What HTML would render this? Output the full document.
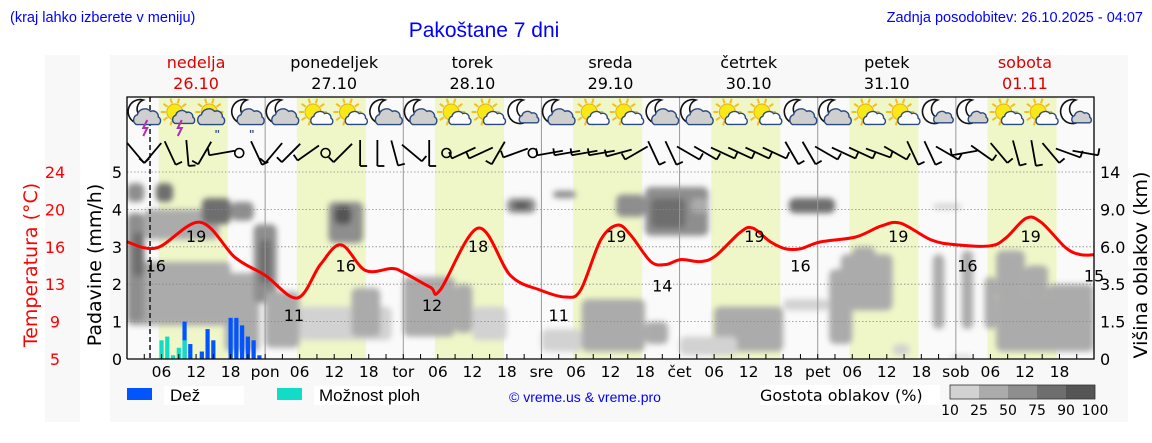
<!DOCTYPE html>
<html><head><meta charset="utf-8"><style>
html,body{margin:0;padding:0;background:#fff;}
svg{display:block;font-family:"DejaVu Sans","Liberation Sans",sans-serif;}
</style></head><body>
<svg id="chart" width="1152" height="443" viewBox="0 0 1152 443" xmlns="http://www.w3.org/2000/svg">
<defs>
<filter id="blur" x="-20%" y="-20%" width="140%" height="140%"><feGaussianBlur stdDeviation="3"/></filter>
<clipPath id="plotclip"><rect x="127" y="97" width="967" height="262"/></clipPath>
</defs>
<rect x="45" y="55" width="35" height="367" fill="#f8f8f8"/>
<rect x="110" y="55" width="1018" height="367" fill="#f8f8f8"/>
<text x="10" y="22" font-family="Liberation Sans, sans-serif" font-size="14.5" fill="#0000ff">(kraj lahko izberete v meniju)</text>
<text x="484" y="37" text-anchor="middle" font-family="Liberation Sans, sans-serif" font-size="21" fill="#0000ff">Pakoštane 7 dni</text>
<text x="1143" y="22" text-anchor="end" font-family="Liberation Sans, sans-serif" font-size="14.5" fill="#0000ff">Zadnja posodobitev: 26.10.2025 - 04:07</text>
<g id="plot"></g>
<g id="overlay"></g>
</svg>
<script>
const NS='http://www.w3.org/2000/svg';
// ---- data ----
const dayNames=['nedelja','ponedeljek','torek','sreda','četrtek','petek','sobota'];
const dayDates=['26.10','27.10','28.10','29.10','30.10','31.10','01.11'];
const dayRed=[true,false,false,false,false,false,true];
const dayAbbr=['pon','tor','sre','čet','pet','sob'];
const tempHours=[0,5.2,12.7,18.8,24,29.6,33.6,37.2,41.4,46,48,52.7,54.4,61,66.6,71.8,76.2,78.8,82.3,85.2,87.5,91,93.6,96.2,99.7,102.3,106.6,108.7,111.8,114.4,117,120.5,126.6,131,134.4,139.7,144,150,152.7,156.2,158.8,163.1,165.7,168];
const tempValues=[16.9,16.3,18.9,15.3,13.5,11.2,14.6,16.6,14.0,14.2,13.8,12.3,12.0,18.3,13.5,12.0,11.3,12.0,17.1,18.6,17.6,14.9,14.6,15.1,14.9,15.5,17.9,18.3,16.9,16.2,16.2,16.9,17.4,18.5,18.8,17.1,16.6,16.5,17.3,19.3,18.9,16.3,15.6,15.6];
const labelHours=[5,12,29,38,53,61,75,85,93,109,117,134,146,157,168];
const labelTemps=[16,19,11,16,12,18,11,19,14,19,16,19,16,19,15];
const rainHours=[10,11,13,14,15,18,19,20,21,22,23];
const rainValues=[1.0,0.4,0.2,0.8,0.5,1.1,1.1,0.9,0.6,0.5,0.1];
const showerHours=[6,7,8,9,10];
const showerValues=[0.5,0.6,0.1,0.3,0.5];
const precipTicks=[0,1,2,3,4,5];
const tempTicks=['5','9','13','16','20','24'];
const cloudTicks=['0','1.5','3.5','6.0','9.0','14'];
const cloudH0=[0,0,1,0,5,3,13,17,22,23,24,18,35,36,30,39,48,57,60,66,67,74,72,79,80,90,85,90,91,98,102,96,115,114,122,124,126,133,140,145,149,151,151,156,160,143,140];
const cloudH1=[18,3,3,3,8,16,18,23,26,25,30,22,41,39,46,44,57,60,66,71,70,78,79,90,88,94,90,101,97,101,114,106,123,122,126,133,130,136,142,147,151,168,156,160,168,147,145];
const cloudLo=[0.9,1.0,2.2,4.2,4.2,3.2,3.6,0.2,1.5,2.0,0.3,3.7,3.1,3.6,0.5,0.6,0.6,0.7,0.5,3.9,4.0,4.3,0.2,0.2,0.4,0.4,3.8,3.3,3.5,3.9,0.2,0.1,3.9,1.3,0.4,1.3,2.6,0.1,0.8,0.8,0.8,0.2,1.6,1.6,1.6,0.0,4.0];
const cloudHi=[2.6,3.9,3.4,4.7,4.7,4.0,4.3,2.3,3.6,3.2,1.8,4.2,4.2,4.1,1.4,1.9,2.2,2.0,1.4,4.3,4.2,4.5,0.8,1.6,1.4,1.0,4.4,4.6,4.3,4.3,1.4,0.6,4.3,1.6,2.4,2.8,3.0,0.4,2.8,2.9,2.2,1.7,2.9,2.5,2.0,0.1,4.15];
const cloudShade=[1,2,3,2,3,1,3,1,2,3,1,2,2,4,0,1,1,1,0,2,4,2,0,1,1,1,2,2,3,1,1,0,3,0,1,1,1,0,1,1,1,1,1,1,1,0,0];
const iconTypes=['mt','st','sr','mr','mc','sc','sc','mc','mc','sc','sc','m','mc','sc','sc','mc','mc','sc','sc','mc','mc','sc','sc','m','m','sc','sc','m'];
const windAngles=[40,-40,25,5,-30,-80,null,25, -40,-45,-55,null,-45,0,0,15, 50,0,null,-65,-65,-30,-70,null, -80,-80,-80,-80,-75,-60,25,25, 60,60,65,65,65,65,30,30, 60,65,65,70,60,25,25,60, -80,55,40,15,10,40,70,80];
const legendValues=['10','25','50','75','90','100'];
const shadeColors=['#d2d2d2','#ababab','#8e8e8e','#6e6e6e','#555555'];
// ---- axes ----
const X0=127,X1=1094,Y0=359,YTOP=97,PX_MM=37.4;
const xH=h=>X0+h*(X1-X0)/168;
const yMM=v=>Y0-v*PX_MM;
const yT=t=>Y0-(t-5)/3.8*PX_MM;
function el(tag,attrs,parent,text){const e=document.createElementNS(NS,tag);for(const k in attrs)e.setAttribute(k,attrs[k]);if(text!==undefined)e.textContent=text;(parent||plot).appendChild(e);return e;}
const plot=document.getElementById('plot');
const ov=document.getElementById('overlay');
let bg=el('rect',{x:X0,y:YTOP,width:X1-X0,height:Y0-YTOP,fill:'#fafafa'});


for(let d=0;d<7;d++){
  const r=el('rect',{x:xH(d*24+5.5),y:YTOP,width:xH(17.5)-xH(5.5),height:Y0-YTOP,fill:'#eff7c8'});
  
  
}
const cg=el('g',{'clip-path':'url(#plotclip)'});


const cgi=el('g',{filter:'url(#blur)'},cg);
for(let i=0;i<cloudH0.length;i++){
  const r=el('rect',{x:xH(cloudH0[i]),y:yMM(cloudHi[i]),width:xH(cloudH1[i])-xH(cloudH0[i]),height:yMM(cloudLo[i])-yMM(cloudHi[i]),rx:6,fill:shadeColors[cloudShade[i]]},cgi);
  
  
}
for(let v=1;v<=5;v++){
  const g=el('line',{x1:X0,x2:X1,y1:yMM(v),y2:yMM(v),stroke:'#888','stroke-width':0.8,'stroke-dasharray':'1.5,2'});
  
  
}
for(let d=1;d<7;d++){
  const l=el('line',{x1:xH(d*24),x2:xH(d*24),y1:YTOP,y2:Y0,stroke:'#999','stroke-width':1});
  
  
}
let nl=el('line',{x1:xH(4),x2:xH(4),y1:YTOP,y2:Y0,stroke:'#222','stroke-width':1.6,'stroke-dasharray':'5,3'});


const bw=4.2;
for(let i=0;i<rainHours.length;i++){
  const b=el('rect',{x:xH(rainHours[i])-bw/2,y:yMM(rainValues[i]),width:bw,height:rainValues[i]*PX_MM,fill:'#0055ff'});
  
  
}
for(let i=0;i<showerHours.length;i++){
  const b=el('rect',{x:xH(showerHours[i])-bw/2,y:yMM(showerValues[i]),width:bw,height:showerValues[i]*PX_MM,fill:'#10dcc8'});
  
  
}
// smooth temperature line (Catmull-Rom)
const pts=tempHours.map((h,i)=>[xH(h),yT(tempValues[i])]);
let d='M'+pts[0][0].toFixed(1)+','+pts[0][1].toFixed(1);
for(let i=0;i<pts.length-1;i++){
  const p0=pts[Math.max(0,i-1)],p1=pts[i],p2=pts[i+1],p3=pts[Math.min(pts.length-1,i+2)];
  const c1=[p1[0]+(p2[0]-p0[0])/6,p1[1]+(p2[1]-p0[1])/6],c2=[p2[0]-(p3[0]-p1[0])/6,p2[1]-(p3[1]-p1[1])/6];
  d+=`C${c1[0].toFixed(1)},${c1[1].toFixed(1)} ${c2[0].toFixed(1)},${c2[1].toFixed(1)} ${p2[0].toFixed(1)},${p2[1].toFixed(1)}`;
}
let tl=el('path',{d:d,fill:'none',stroke:'#ff0000','stroke-width':3,'stroke-linejoin':'round'});


for(let i=0;i<labelHours.length;i++){
  const t=el('text',{x:xH(labelHours[i]),y:yT(labelTemps[i])+21,'text-anchor':'middle','font-size':16,fill:'#000'},plot,String(labelTemps[i]));
  
  
}
let fr=el('path',{d:`M${X0},${Y0}L${X0},${YTOP}L${X1},${YTOP}L${X1},${Y0}L${X0},${Y0}`,fill:'none',stroke:'#000','stroke-width':1.3});


for(let h=3;h<168;h+=3){
  const tk=el('line',{x1:xH(h),x2:xH(h),y1:Y0,y2:Y0-5,stroke:'#000','stroke-width':1});
  
  
}
for(let dd=0;dd<7;dd++){
  ['06','12','18'].forEach((s,j)=>{
    const t=el('text',{x:xH(dd*24+6*(j+1)),y:377,'text-anchor':'middle','font-size':15.5},plot,s);
    
    
  });
  if(dd<6){
    const t=el('text',{x:xH((dd+1)*24),y:377,'text-anchor':'middle','font-size':15.5},plot,dayAbbr[dd]);
    
    
  }
  const c=dayRed[dd]?'#dd0000':'#000';
  const n=el('text',{x:xH(dd*24+12),y:68,'text-anchor':'middle','font-size':16,fill:c},plot,dayNames[dd]);
  
  
  const dt=el('text',{x:xH(dd*24+12),y:89,'text-anchor':'middle','font-size':16,fill:c},plot,dayDates[dd]);
  
  
}
for(let i=0;i<precipTicks.length;i++){
  const y=yMM(precipTicks[i]);
  const t=el('text',{x:122,y:y+6,'text-anchor':'end','font-size':16},plot,String(precipTicks[i]));
  
  
  const tt=el('text',{x:55,y:y+6,'text-anchor':'middle','font-size':16,fill:'#ff0000'},plot,tempTicks[i]);
  
  
  const ct=el('text',{x:1100,y:y+6,'font-size':16},plot,cloudTicks[i]);
  
  
}
let a1=el('text',{x:0,y:0,transform:'translate(37,265) rotate(-90)','text-anchor':'middle','font-size':19,fill:'#ff0000'},plot,'Temperatura (°C)');


let a2=el('text',{x:0,y:0,transform:'translate(101,265) rotate(-90)','text-anchor':'middle','font-size':19},plot,'Padavine (mm/h)');


let a3=el('text',{x:0,y:0,transform:'translate(1147,265) rotate(-90)','text-anchor':'middle','font-size':19},plot,'Višina oblakov (km)');


function moon(g,cx,cy){el('path',{d:`M${cx+2},${cy-14} A12 12 0 1 0 ${cx+9},${cy+4} A9 9 0 0 1 ${cx+2},${cy-14}Z`,fill:'#fff',stroke:'#111','stroke-width':1.6},g);}
function sun(g,cx,cy){for(let k=0;k<10;k++){const a=k*Math.PI/5;el('line',{x1:cx+Math.cos(a)*9,y1:cy+Math.sin(a)*9,x2:cx+Math.cos(a)*14,y2:cy+Math.sin(a)*14,stroke:'#f0c020','stroke-width':2},g);}el('circle',{cx:cx,cy:cy,r:8,fill:'#f8e818',stroke:'#e8b010','stroke-width':1},g);}
function cloud(g,cx,cy,s,fill){el('path',{d:`M${cx-10*s},${cy+6*s} a${5*s} ${5*s} 0 0 1 ${1*s},${-9*s} a${7*s} ${7*s} 0 0 1 ${12*s},${-3*s} a${5*s} ${5*s} 0 0 1 ${7*s},${5*s} a${4*s} ${4*s} 0 0 1 0,${7*s} Z`,fill:fill,stroke:'#2a4a80','stroke-width':1.4},g);}
for(let i=0;i<iconTypes.length;i++){
  const cx=xH(3+6*i),cy=116,ty=iconTypes[i];
  const g=el('g',{});
  
  
  if(ty[0]==='m'){moon(g,cx-3,cy-2);}else{sun(g,cx-4,cy-4);}
  if(ty==='m'){cloud(g,cx+5,cy+2,0.8,'#cfcfcf');}
  else if(ty[0]==='m'){cloud(g,cx+3,cy+2,1.1,'#cfcfcf');}
  else if(ty==='sr'){cloud(g,cx-2,cy+2,1.1,'#cfcfcf');}
  else if(ty==='st'){cloud(g,cx+5,cy+2,0.9,'#cfcfcf');}
  else {cloud(g,cx+5,cy+3,0.9,'#ffffff');}
  if(ty[1]==='t'){el('path',{d:`M${cx+3},${cy+4} l-4,8 l4,0 l-4,8`,fill:'none',stroke:'#b030b0','stroke-width':2},g);}
  if(ty[1]==='r'){el('text',{x:cx+1,y:cy+22,'font-size':11,fill:'#2a4a80','font-weight':'bold'},g,'"');}
}
for(let i=0;i<windAngles.length;i++){
  const cx=xH(1.5+3*i),cy=153,a=windAngles[i];
  const g=el('g',{});
  
  
  if(a===null){el('circle',{cx:cx,cy:cy,r:4.5,fill:'none',stroke:'#000','stroke-width':1.6},g);continue;}
  const r=a*Math.PI/180,L=13;
  const dx=-Math.sin(r)*L,dy=-Math.cos(r)*L;
  el('line',{x1:cx-dx,y1:cy-dy,x2:cx+dx,y2:cy+dy,stroke:'#000','stroke-width':1.8},g);
  const px=Math.cos(r)*7,py=-Math.sin(r)*7;
  el('line',{x1:cx-dx,y1:cy-dy,x2:cx-dx+px*(a<0?-1:1),y2:cy-dy+py*(a<0?-1:1),stroke:'#000','stroke-width':1.8},g);
}
const L=ov;
let r1=el('rect',{x:127,y:388,width:25,height:12,fill:'#0055ff'},L);
let wb1=el('rect',{x:164,y:386,width:80,height:19,fill:'#fff'},L);
let t1=el('text',{x:170,y:401,'font-size':17,'font-family':'Liberation Sans, sans-serif'},L,'Dež');
let r2=el('rect',{x:277,y:388,width:25,height:12,fill:'#10dcc8'},L);
let wb2=el('rect',{x:314,y:386,width:100,height:19,fill:'#fff'},L);
let t2=el('text',{x:319,y:401,'font-size':17,'font-family':'Liberation Sans, sans-serif'},L,'Možnost ploh');
let t3=el('text',{x:585,y:402,'text-anchor':'middle','font-size':14,fill:'#0000ff','font-family':'Liberation Sans, sans-serif'},L,'© vreme.us & vreme.pro');
let wb3=el('rect',{x:760,y:385,width:180,height:20,fill:'#fff'},L);
let t4=el('text',{x:760,y:401,'font-size':16},L,'Gostota oblakov (%)');
for(let i=0;i<5;i++){const s=el('rect',{x:950+i*29,y:385,width:29,height:14,fill:shadeColors[i]},L);}
let cb=el('rect',{x:950,y:385,width:145,height:14,fill:'none',stroke:'#333','stroke-width':0.8},L);
for(let i=0;i<legendValues.length;i++){const t=el('text',{x:950+i*29,y:415,'text-anchor':'middle','font-size':14},L,legendValues[i]);}
</script>
</body></html>
